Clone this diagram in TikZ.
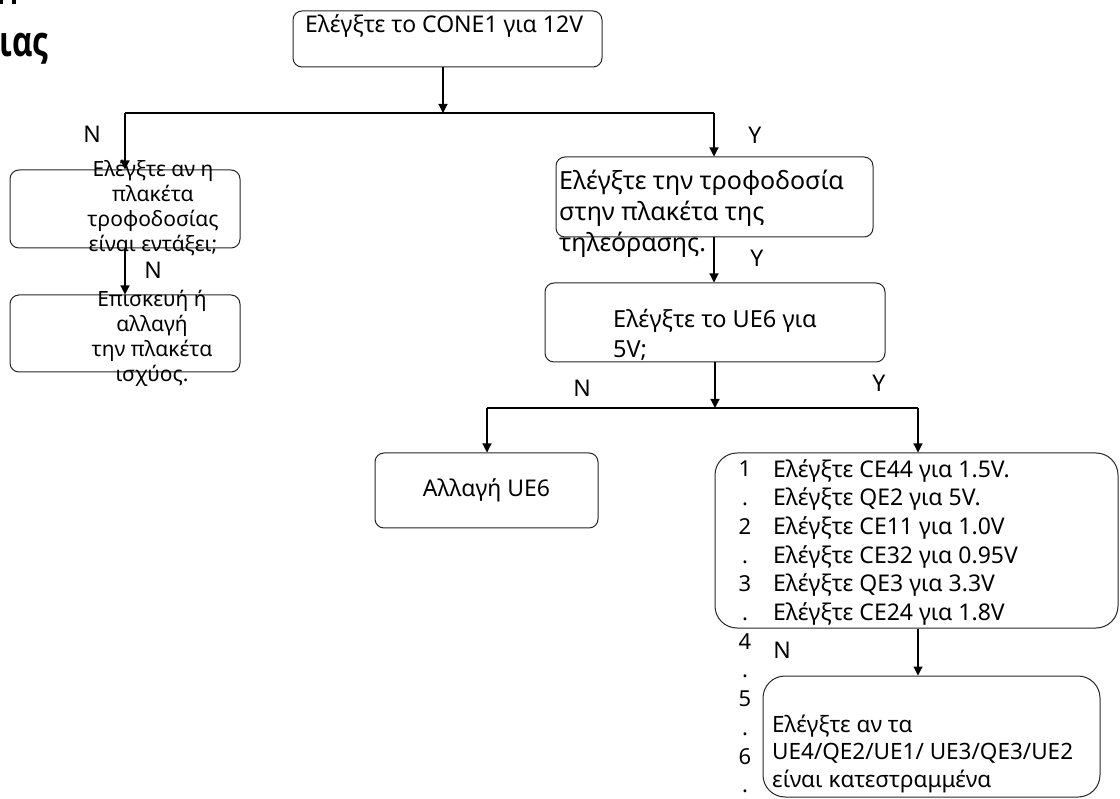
\documentclass[tikz,border=0pt]{standalone}
\usepackage{fontspec}
\setmainfont{Noto Sans}
\newfontfamily\titlefont{Open Sans}[FakeStretch=0.75]
\usetikzlibrary{arrows.meta}
\begin{document}
\begin{tikzpicture}[x=1pt,y=-1pt,
  box/.style={draw=black!85, line width=1pt, rounded corners=9pt, inner sep=0pt},
  bigbox/.style={box, rounded corners=22pt},
  arr/.style={-{Triangle[width=9pt,length=9pt]}, line width=1.2pt},
  ln/.style={line width=1.2pt},
  lbl/.style={font=\fontsize{23}{26}\selectfont, inner sep=0pt},
  txt/.style={inner sep=0pt, align=left},
  ctxt/.style={inner sep=0pt, align=center},
]
\useasboundingbox (0,0) rectangle (1120,799);

% title fragment
\fill (0,0) rectangle (3,4);
\fill (12,0) rectangle (16,4);
\node[font=\titlefont\fontsize{42}{50}\selectfont\bfseries, anchor=base west, inner sep=0pt] (title) at (-1,57) {ιας};

% boxes
\node[box, minimum width=309pt, minimum height=56pt] (top) at (447.5,39) {};
\node[box, minimum width=230pt, minimum height=78pt] (l1) at (125,209) {};
\node[box, minimum width=230pt, minimum height=77pt] (l2) at (125,333.5) {};
\node[box, minimum width=317pt, minimum height=80pt] (r1) at (714.5,197) {};
\node[box, minimum width=340pt, minimum height=79pt] (r2) at (715,322.5) {};
\node[box, minimum width=223pt, minimum height=75pt] (a1) at (486.5,490.5) {};
\node[bigbox, minimum width=403pt, minimum height=175pt] (big) at (916.5,540.5) {};
\node[bigbox, minimum width=337pt, minimum height=121pt] (last) at (931.5,736.5) {};

% texts (base anchor = baseline of the last line)
\node[txt, anchor=base west, font=\fontsize{23}{26}\selectfont] (topt) at (305,33) {Ελέγξτε το CONE1 για 12V};
\node[ctxt, anchor=base, font=\fontsize{21}{25}\selectfont] (l1t) at (153,252) {Ελέγξτε αν η\\πλακέτα\\τροφοδοσίας\\είναι εντάξει;};
\node[ctxt, anchor=base, font=\fontsize{21}{25}\selectfont] (l2t) at (152,382) {Επισκευή ή\\αλλαγή\\την πλακέτα\\ισχύος.};
\node[txt, anchor=base west, font=\fontsize{25}{31}\selectfont] (r1t) at (559,252) {Ελέγξτε την τροφοδοσία\\στην πλακέτα της\\τηλεόρασης.};
\node[txt, anchor=base west, font=\fontsize{23.5}{30}\selectfont] (r2t) at (613,358) {Ελέγξτε το UE6 για\\5V;};
\node[ctxt, font=\fontsize{23}{26}\selectfont] (a1t) at (486.5,490) {Αλλαγή UE6};
\node[txt, anchor=base west, font=\fontsize{23}{28.7}\selectfont] (bigt) at (773,620.5) {Ελέγξτε CE44 για 1.5V.\\Ελέγξτε QE2 για 5V.\\Ελέγξτε CE11 για 1.0V\\Ελέγξτε CE32 για 0.95V\\Ελέγξτε QE3 για 3.3V\\Ελέγξτε CE24 για 1.8V};
\foreach \t [count=\i from 0] in {1,.,2,.,3,.,4,.,5,.,6,.}
  \node[inner sep=0pt, anchor=base, font=\fontsize{22}{26}\selectfont] (num\i) at (745,477+\i*28.7) {\t};
\node[txt, anchor=base west, font=\fontsize{22.5}{27.5}\selectfont] (lastt) at (772,787) {Ελέγξτε αν τα\\UE4/QE2/UE1/ UE3/QE3/UE2\\είναι κατεστραμμένα};

% junctions
\coordinate (j1) at (443,113);
\coordinate (jL) at (125,113);
\coordinate (jR) at (714,113);
\coordinate (j2) at (715,408);
\coordinate (jN) at (487,408);
\coordinate (jY) at (918,408);

% connectors
\draw[arr] (top.south -| j1) -- (j1);
\draw[ln] (jL) -- (jR);
\draw[arr] (jL) -- (jL |- l1.north);
\draw[arr] (jR) -- (jR |- r1.north);
\draw[arr] (l1.south) -- (l2.north);
\draw[arr] (r1.south -| jR) -- (r2.north -| jR);
\draw[arr] (r2.south -| j2) -- (j2);
\draw[ln] (jN) -- (jY);
\draw[arr] (jN) -- (jN |- a1.north);
\draw[arr] (jY) -- (jY |- big.north);
\draw[arr] (big.south -| jY) -- (last.north -| jY);

% labels
\node[lbl] (lN1) at (92,134) {N};
\node[lbl] (lY1) at (755,135) {Y};
\node[lbl] (lN2) at (153,270) {N};
\node[lbl] (lY2) at (757,258) {Y};
\node[lbl] (lN3) at (582,388) {N};
\node[lbl] (lY3) at (879,383) {Y};
\node[lbl] (lN4) at (782,650) {N};
\end{tikzpicture}
\end{document}
